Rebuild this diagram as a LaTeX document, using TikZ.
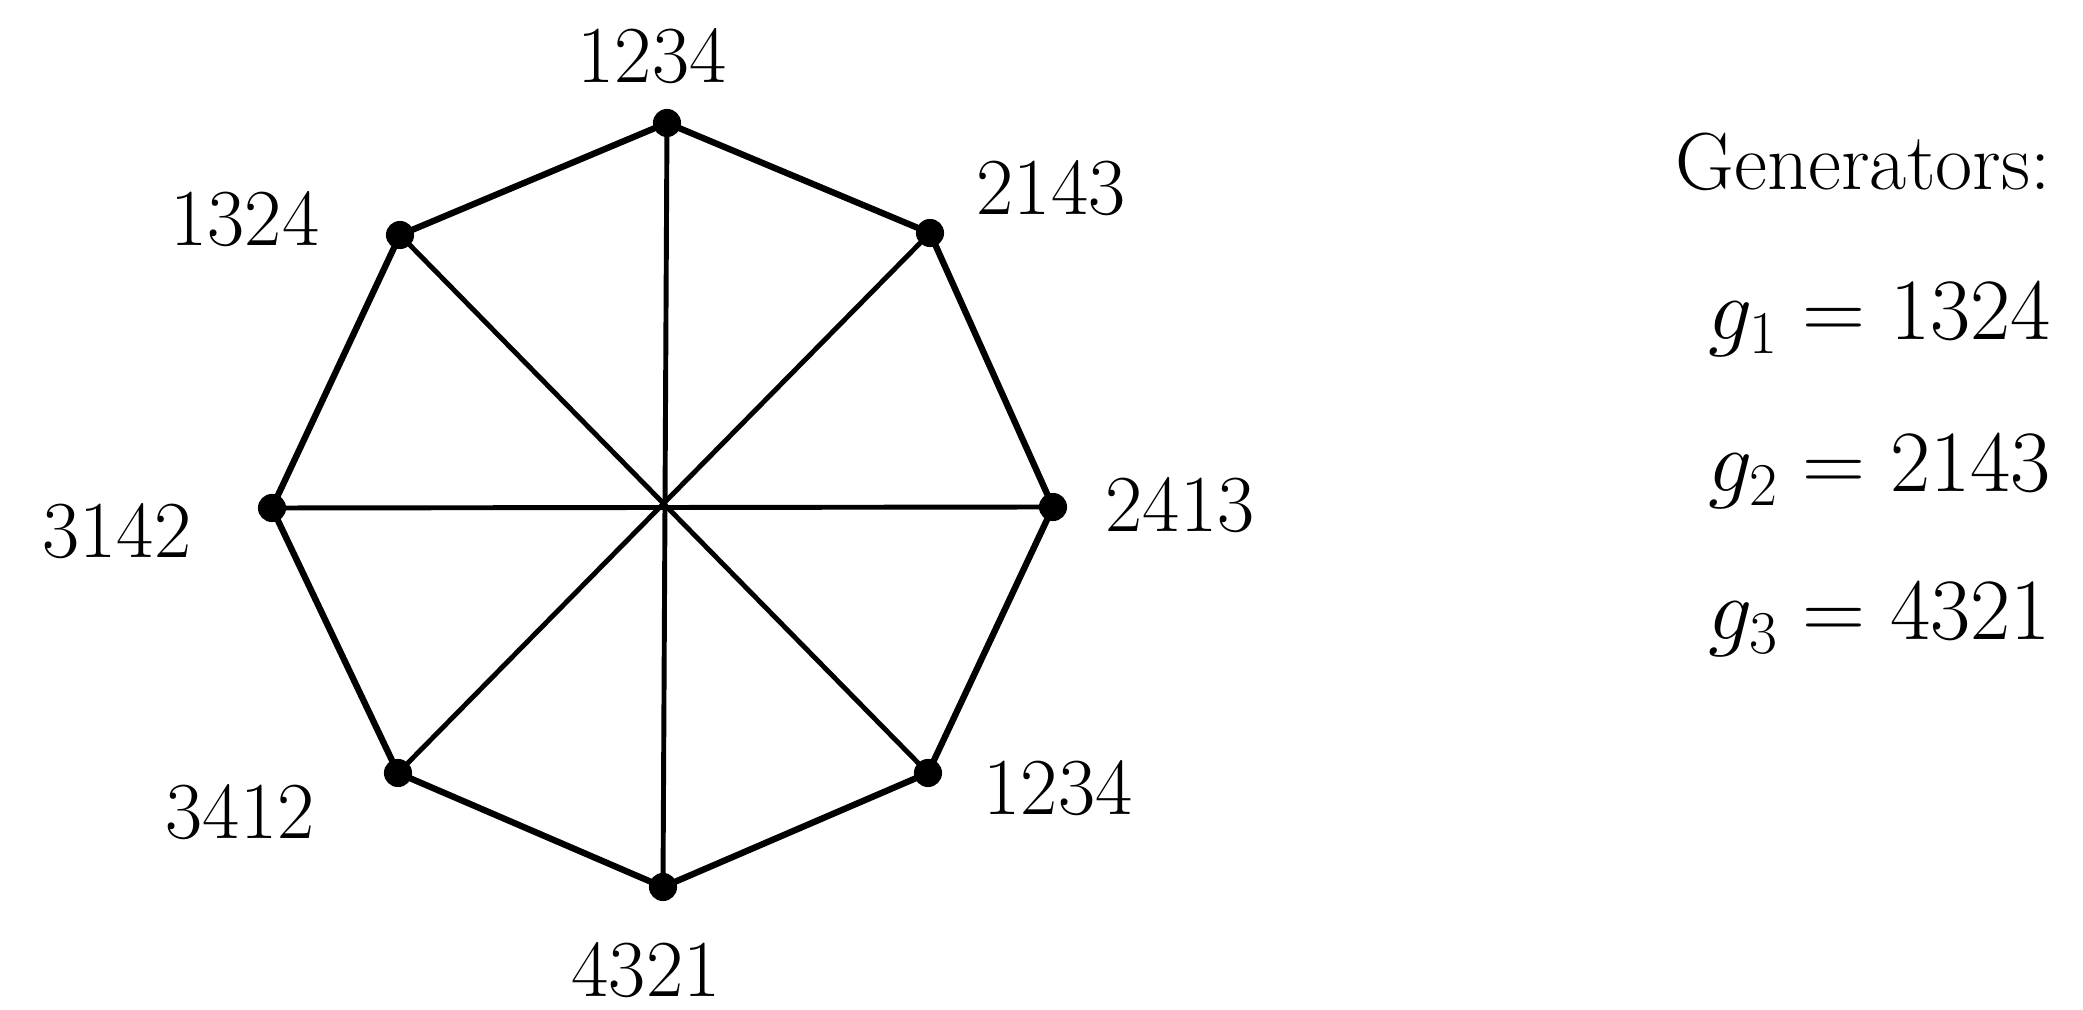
\documentclass[tikz,border=0pt]{standalone}
\usepackage{fontspec}
\begin{document}
\begin{tikzpicture}[font=\fontsize{23}{27}\selectfont,
  vdot/.style={circle,fill,inner sep=0pt,minimum size=8pt},
  rim/.style={line width=1.8pt},
  spoke/.style={line width=1.4pt}]
\useasboundingbox (0,0) rectangle (20.83,10.10);
% vertices of the octagon
\coordinate (o) at (6.65,5.04);
\node[vdot] (a) at (6.67,8.87) {};
\node[vdot] (b) at (9.30,7.77) {};
\node[vdot] (c) at (10.53,5.03) {};
\node[vdot] (d) at (9.28,2.37) {};
\node[vdot] (e) at (6.63,1.23) {};
\node[vdot] (f) at (3.98,2.37) {};
\node[vdot] (g) at (2.72,5.02) {};
\node[vdot] (h) at (4.00,7.75) {};
% edges and spokes
\draw[rim] (a.center)--(b.center)--(c.center)--(d.center)--(e.center)--(f.center)--(g.center)--(h.center)--cycle;
\draw[spoke] (a.center)--(e.center); \draw[spoke] (b.center)--(f.center);
\draw[spoke] (c.center)--(g.center); \draw[spoke] (d.center)--(h.center);
% labels
\node (la) at (6.52,9.54) {1234};
\node (lb) at (10.51,8.22) {2143};
\node (lc) at (11.80,5.05) {2413};
\node (ld) at (10.58,2.22) {1234};
\node (le) at (6.46,0.40) {4321};
\node (lf) at (2.40,1.98) {3412};
\node (lg) at (1.17,4.79) {3142};
\node (lh) at (2.45,7.91) {1324};
\node[anchor=base east] (gen) at (20.63,8.20) {Generators:};
\node[anchor=base east] (g1) at (20.63,6.70) {$g_1 = 1324$};
\node[anchor=base east] (g2) at (20.63,5.18) {$g_2 = 2143$};
\node[anchor=base east] (g3) at (20.63,3.70) {$g_3 = 4321$};
\end{tikzpicture}
\end{document}
